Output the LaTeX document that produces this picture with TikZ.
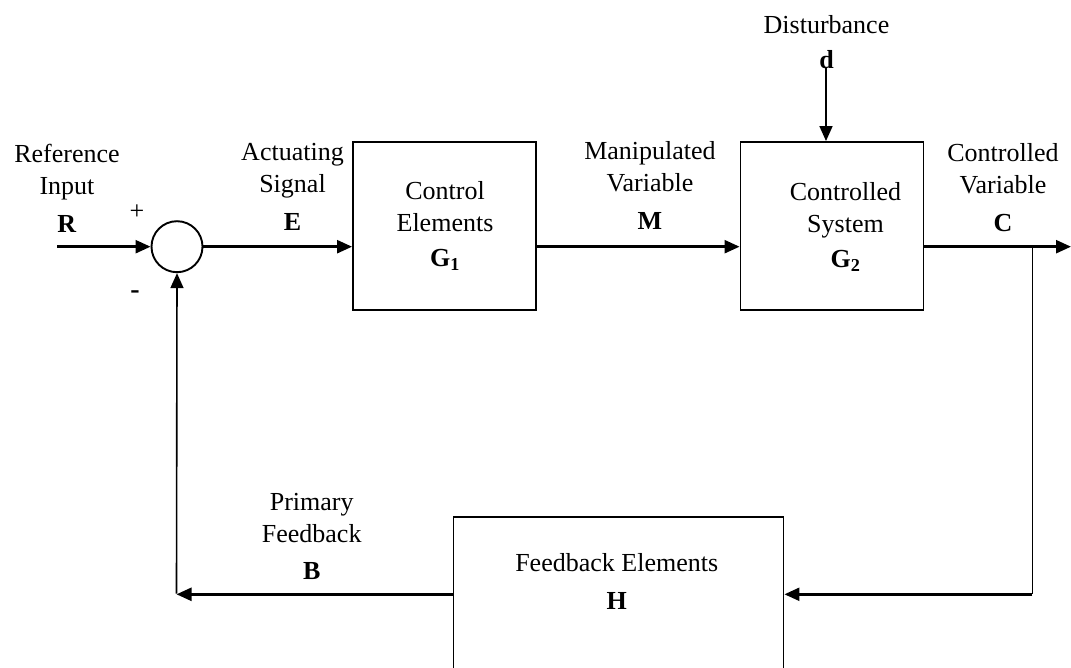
\documentclass[tikz,border=0pt]{standalone}
\usepackage{fontspec}
\setmainfont{Liberation Serif}
\usetikzlibrary{arrows.meta}
\begin{document}
\begin{tikzpicture}[x=1pt,y=-1pt,
  blk/.style={draw, line width=1.9pt, inner sep=0pt},
  sig/.style={line width=2.4pt, -{Triangle[length=15pt,width=13pt]}},
  thinsig/.style={line width=1.6pt, -{Triangle[length=15pt,width=13pt]}},
  thinline/.style={line width=1.6pt},
  lbl/.style={align=center, inner sep=0pt, anchor=north, font=\fontsize{26}{32}\selectfont}]
\useasboundingbox (0,0) rectangle (1071,668);
\clip (0,0) rectangle (1071,668);

% summing junction and blocks
\node[draw, circle, line width=1.9pt, minimum size=51pt, inner sep=0pt] (sum) at (177,246.7) {};
\node[blk, minimum width=183pt, minimum height=168pt] (g1) at (444.5,226) {};
\node[blk, minimum width=183pt, minimum height=168pt] (g2) at (832,226) {};
\node[blk, minimum width=330pt, minimum height=206pt] (fb) at (618.5,620.3) {};

% block texts
\node[lbl] (g1txt) at (445,181.7) {Control\\Elements\\[3pt]\textbf{G\textsubscript{1}}};
\node[lbl] (g2txt) at (845.5,182.7) {Controlled\\System\\[3pt]\textbf{G\textsubscript{2}}};
\node[lbl] (fbtxt) at (616.7,553.3) {Feedback Elements\\[6pt]\textbf{H}};

% signal labels
\node[lbl] (rtxt) at (67,144) {Reference\\Input\\[6pt]\textbf{R}};
\node[lbl] (etxt) at (292.5,143) {Actuating\\Signal\\[6pt]\textbf{E}};
\node[lbl] (mtxt) at (650,141.7) {Manipulated\\Variable\\[6pt]\textbf{M}};
\node[lbl] (ctxt) at (1003,143) {Controlled\\Variable\\[6pt]\textbf{C}};
\node[lbl] (dtxt) at (826.5,15) {Disturbance\\[3pt]\textbf{d}};
\node[lbl] (btxt) at (311.7,493.3) {Primary\\Feedback\\[5pt]\textbf{B}};
\node[font=\fontsize{26}{32}\selectfont, inner sep=0pt] (plus) at (137,211.7) {+};
\node[font=\fontsize{28}{32}\selectfont\bfseries, inner sep=0pt] (minus) at (135,295) {-};

% forward path
\coordinate (rin) at (57,246.7);
\coordinate (cout) at (1071,246.7);
\draw[sig] (rin) -- (sum.west);
\draw[sig] (sum.east) -- (sum.east -| g1.west);
\draw[sig] (g1.east |- sum.east) -- (g2.west |- sum.east);
\draw[sig] (g2.east |- sum.east) -- (cout);

% disturbance
\coordinate (dtop) at (826,68);
\draw[thinsig] (dtop) -- (dtop |- g2.north);

% feedback path
\coordinate (branch) at (1032.3,246.7);
\coordinate (fcorner) at (1032.3,594.3);
\coordinate (bcorner) at (176.5,594.3);
\draw[thinline] (branch) -- (fcorner);
\draw[sig] (fcorner) -- (fb.east |- fcorner);
\draw[sig] (fb.west |- bcorner) -- (bcorner);
\draw[thinsig] ([yshift=0.8pt]bcorner) -- (sum.south);
\end{tikzpicture}
\end{document}
